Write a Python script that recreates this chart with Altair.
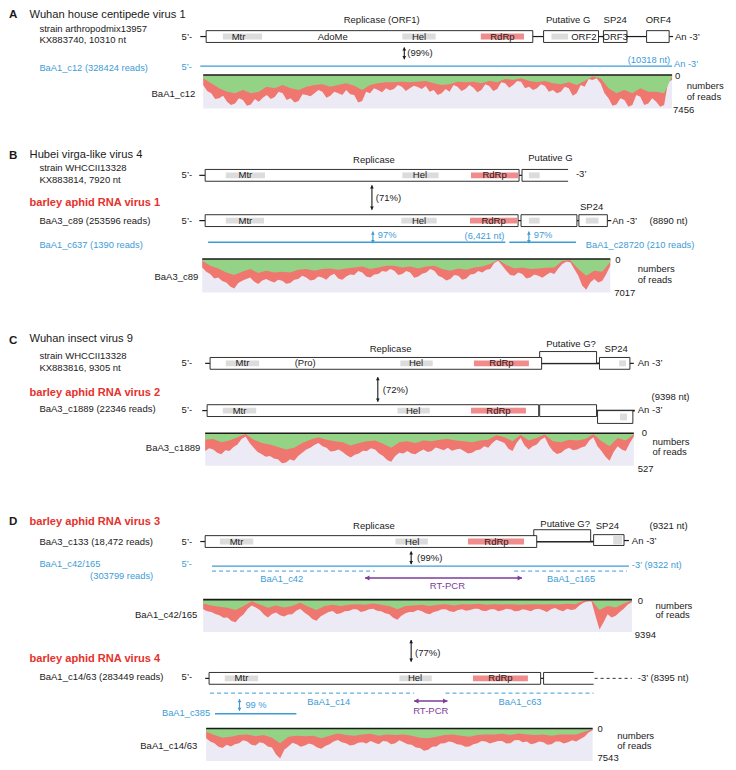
import altair as alt
import pandas as pd
import numpy as np

# ---------------- colours ----------------
BLACK = "#1a1a1a"
BLUE = "#3d9bd6"
RED = "#e5322d"
PURPLE = "#7d3c98"
GREY = "#dcdcdc"
PINK = "#f08c8c"
COV_RED = "#f07670"
COV_GREEN = "#94d286"
COV_BG = "#eceaf4"

# reference frame (figure units) -> chart pixels
CH_W, CH_H = 720, 756
K = 0.98  # font scale

XS = alt.Scale(domain=[1, 735], nice=False, zero=False)
YS = alt.Scale(domain=[2, 770], nice=False, zero=False, reverse=True)

# ---------------- coverage tracks (depth, % of axis maximum) ----------------
strip_names = ["BaA1_c12", "BaA3_c89", "BaA3_c1889", "BaA1_c42/165", "BaA1_c14/63"]
strip_max_reads = [7456, 7017, 527, 9394, 7543]
strip_x = [(200, 678), (199, 615), (202, 639), (200, 637), (203, 597)]
strip_y = [(70, 104), (257, 291), (434, 467), (603, 636), (734, 767)]

# all reads (red)
depth_total_A = [30,48,55,72,70,62,80,90,85,70, 75,92,88,72,80,68,60,72,66,50, 55,75,70,82,78,58,60,64,55,45,
                 50,68,62,50,55,60,45,58,60,82, 78,50,55,40,45,52,40,46,42,30, 35,48,40,32,36,42,33,50,45,60,
                 55,42,50,30,35,48,42,30,38,52, 45,28,33,48,42,22,25,38,30,18, 20,40,35,45,40,28,33,50,45,55,
                 50,35,40,62,55,30,35,12,15,10, 25,55,70,92,88,70,75,95,90,60, 65,90,85,70,80,95,90,20,15]
depth_total_B = [25,38,45,58,55,66,70,82,88,72, 65,60,55,68,75,64,60,66,70,62, 65,74,72,62,60,50,55,64,62,52,
                 55,62,50,44,58,62,52,46,48,36, 40,52,55,46,45,36,38,30,35,48, 45,36,40,56,52,44,40,30,35,50,
                 55,64,60,48,50,62,58,46,45,36, 40,32,30,12,5,20,35,48,50,40, 45,58,55,46,50,56,48,40,45,28,
                 15,8,10,30,50,80,92,70,60,70, 65,45,20]
depth_total_C = [55,46,50,60,65,52,55,42,35,18, 10,30,45,58,65,72,70,78,80,92, 90,80,85,70,60,50,45,36,30,40,
                 45,56,55,50,58,68,75,66,62,54, 55,46,50,62,70,82,88,70,60,62, 55,62,65,56,50,58,55,44,48,52,
                 45,54,50,48,55,62,60,52,50,40, 45,30,20,25,30,48,55,30,15,38, 50,40,35,20,12,38,55,64,60,50,
                 45,52,50,44,40,22,12,40,55,72, 85,58,40,50,55,30,10]
depth_total_D1 = [30,36,38,44,48,56,55,66,70,55, 45,28,18,24,32,46,55,44,40,48, 52,46,45,34,28,40,48,60,65,52,
                  45,38,35,44,42,36,35,30,30,38, 35,30,28,34,36,42,45,56,62,50, 42,38,38,32,35,42,45,38,35,30,
                  30,36,38,32,30,34,32,28,28,34, 35,30,30,36,33,28,30,36,35,30, 32,36,30,28,33,38,30,26,32,36,
                  28,32,30,18,10,6,5,50,92,70, 45,55,50,38,28,15,8]
depth_total_D2 = [30,40,45,56,60,50,55,48,45,36, 40,50,52,42,45,55,58,80,92,65, 55,44,48,56,52,46,50,58,62,54,
                  48,40,35,42,45,52,50,44,42,46, 38,44,48,38,40,48,45,36,42,48, 50,58,60,68,65,56,55,46,45,40,
                  42,48,50,56,55,48,45,38,40,46, 42,38,38,46,45,36,35,42,40,48, 45,40,42,50,48,40,40,46,42,36,
                  40,32,25,12,5]

# second (green) track
depth_green_A = [10,25,40,50,55,45,55,50,35,40,30,40,45,35,30,28,35,30,25,32,45,30,25,22,22,20,22,20,18,25,
                 30,28,20,22,20,25,18,22,12,15,10,18,22,18,25,28,22,30,18,5,10,40,55,45,55,40,50,50,55,5]
depth_green_B = [5,20,28,40,48,38,30,42,35,40,38,40,32,30,35,30,28,32,28,25,22,30,25,20,20,25,22,28,22,20,
                 30,35,28,32,25,22,15,2,18,28,25,30,28,26,25,6,4,30,50,35,38,8]
depth_green_C = [20,18,28,22,12,2,20,30,35,42,50,45,30,20,12,20,25,28,38,30,25,22,32,45,28,25,30,22,25,20,
                 18,22,25,28,22,20,6,12,25,5,22,15,4,25,28,20,22,18,3,25,40,15,22,3]
depth_green_D1 = [12,18,22,25,32,20,5,15,25,18,24,20,10,22,32,20,16,20,16,14,16,12,16,20,30,20,18,16,20,16,
                  14,18,14,15,13,16,14,15,14,16,15,14,15,14,15,13,14,4,2,32,20,24,12,3]
depth_green_D2 = [10,20,28,25,20,18,24,20,28,45,25,22,24,22,30,22,15,20,22,18,16,22,18,20,18,22,28,30,25,20,
                  18,22,25,20,18,18,16,20,15,18,20,18,22,18,18,18,10,2]

depth_total = [depth_total_A, depth_total_B, depth_total_C, depth_total_D1, depth_total_D2]
depth_green = [depth_green_A, depth_green_B, depth_green_C, depth_green_D1, depth_green_D2]

# ---------------- genome maps ----------------
orf_boxes = [
    (203, 536, 25, 37), (547, 603, 25, 37), (608, 632, 25, 37), (652, 675, 25, 37),
    (202, 522, 166, 178),
    (202, 521, 212, 224), (524, 581, 212, 224), (583, 612, 212, 224),
    (543, 601, 351, 363), (207, 545, 357, 369), (604, 635, 357, 369),
    (204, 542, 405, 417), (543, 601, 405, 417), (602, 638, 411, 424),
    (537, 595, 532, 544), (202, 540, 538, 550), (598, 629, 537, 548),
    (206, 544, 677, 689),
]
domains = [
    (220, 260, 28, 34, "g"), (403, 437, 28, 34, "g"), (483, 527, 28, 34, "p"), (555, 572, 28, 34, "g"),
    (223, 263, 169, 175, "g"), (403, 440, 169, 175, "g"), (473, 521, 169, 175, "p"), (532, 543, 169, 175, "g"),
    (223, 262, 215, 221, "g"), (402, 438, 215, 221, "g"), (472, 520, 215, 221, "p"), (532, 543, 215, 221, "g"),
    (590, 603, 215, 221, "g"),
    (223, 257, 360, 366, "g"), (401, 434, 360, 366, "g"), (476, 532, 360, 366, "p"), (624, 631, 360, 366, "g"),
    (220, 254, 408, 414, "g"), (398, 431, 408, 414, "g"), (473, 529, 408, 414, "p"), (625, 632, 414, 421, "g"),
    (217, 251, 541, 547, "g"), (396, 429, 541, 547, "g"), (470, 527, 541, 547, "p"), (618, 627, 538, 547, "g"),
    (222, 256, 680, 686, "g"), (400, 433, 680, 686, "g"), (475, 531, 680, 686, "p"),
]
open_h = [(525, 572, 166), (525, 572, 178), (547, 598, 677), (547, 598, 689)]
open_v = [(525, 166, 178), (547, 677, 689)]
thin_links = [
    (197, 203, 31), (536, 547, 31), (603, 608, 31), (632, 652, 31), (675, 679, 31),
    (196, 202, 172), (522, 525, 172), (196, 202, 218), (521, 524, 218), (581, 583, 218), (612, 616, 218),
    (202, 207, 363), (635, 639, 363), (199, 204, 411),
    (197, 202, 544), (629, 634, 543), (202, 206, 683), (544, 547, 683),
]
thick_links = [(545, 604, 363), (601, 640, 411), (540, 598, 544)]
dashed_black = [(599, 637, 683)]
blue_solid = [(197, 678, 61), (205, 508, 240), (512, 580, 240), (209, 634, 569), (212, 295, 719)]
blue_dashed = [(209, 375, 574), (517, 632, 574), (207, 415, 698), (447, 598, 698)]
v_arrows = [(405, 42, 54, BLACK), (372, 182, 207, BLACK), (378, 377, 402, BLACK), (412, 554, 567, BLACK),
            (412, 644, 666, BLACK), (373, 229, 241, BLUE), (532, 229, 241, BLUE), (237, 704, 716, BLUE)]
h_arrows = [(365, 525, 581, PURPLE), (415, 449, 706, PURPLE)]

# ---------------- text ----------------
styles = {  # colour, size, weight
    "P": (BLACK, 11.8, "bold"),
    "T": (BLACK, 11.4, "normal"),
    "L": (BLACK, 9.7, "normal"),
    "R": (RED, 11.3, "bold"),
    "B": (BLUE, 9.5, "normal"),
    "U": (PURPLE, 9.7, "normal"),
}
texts = [
    ("A", 2, 9, "P", "left"),
    ("Wuhan house centipede virus 1", 23, 9, "T", "left"),
    ("strain arthropodmix13957", 33, 23, "L", "left"),
    ("KX883740, 10310 nt", 33, 35, "L", "left"),
    ("5’-", 178, 31, "L", "left"),
    ("Replicase (ORF1)", 382, 14, "L", "center"),
    ("Putative G", 572, 14, "L", "center"),
    ("SP24", 620, 14, "L", "center"),
    ("ORF4", 664, 14, "L", "center"),
    ("Mtr", 236, 31, "L", "center"),
    ("AdoMe", 332, 31, "L", "center"),
    ("Hel", 420, 31, "L", "center"),
    ("RdRp", 505, 31, "L", "center"),
    ("ORF2", 588, 31, "L", "center"),
    ("ORF3", 620, 31, "L", "center"),
    ("An -3’", 681, 31, "L", "left"),
    ("(99%)", 408, 48, "L", "left"),
    ("BaA1_c12 (328424 reads)", 33, 63, "B", "left"),
    ("5’-", 178, 62, "B", "left"),
    ("(10318 nt)", 676, 55, "B", "right"),
    ("An -3’", 680, 59, "B", "left"),
    ("BaA1_c12", 192, 89, "L", "right"),
    ("0", 681, 71.5, "L", "left"),
    ("numbers", 693, 81, "L", "left"),
    ("of reads", 693, 92, "L", "left"),
    ("7456", 679, 106, "L", "left"),
    # B
    ("B", 2, 152, "P", "left"),
    ("Hubei virga-like virus 4", 23, 151, "T", "left"),
    ("strain WHCCII13328", 33, 165, "L", "left"),
    ("KX883814,  7920 nt", 33, 177, "L", "left"),
    ("Replicase", 374, 156, "L", "center"),
    ("Putative G", 554, 154, "L", "center"),
    ("5’-", 178, 172, "L", "left"),
    ("Mtr", 243, 172, "L", "center"),
    ("Hel", 421, 172, "L", "center"),
    ("RdRp", 497, 172, "L", "center"),
    ("-3’", 580, 171, "L", "left"),
    ("(71%)", 376, 195, "L", "left"),
    ("barley aphid RNA virus 1", 23, 200, "R", "left"),
    ("BaA3_c89 (253596 reads)", 33, 218, "L", "left"),
    ("5’-", 178, 218, "L", "left"),
    ("Mtr", 243, 218, "L", "center"),
    ("Hel", 420, 218, "L", "center"),
    ("RdRp", 496, 218, "L", "center"),
    ("SP24", 596, 204, "L", "center"),
    ("An -3’", 617, 218, "L", "left"),
    ("(8890 nt)", 655, 218, "L", "left"),
    ("BaA1_c637 (1390 reads)", 33, 243, "B", "left"),
    ("97%", 378, 233, "B", "left"),
    ("(6,421 nt)", 507, 234, "B", "right"),
    ("97%", 537, 233, "B", "left"),
    ("BaA1_c28720 (210 reads)", 590, 243, "B", "left"),
    ("BaA3_c89", 195, 275, "L", "right"),
    ("0", 620, 258, "L", "left"),
    ("numbers", 643, 267, "L", "left"),
    ("of reads", 643, 278, "L", "left"),
    ("7017", 619, 292, "L", "left"),
    # C
    ("C", 2, 340, "P", "left"),
    ("Wuhan insect virus 9", 23, 338, "T", "left"),
    ("strain WHCCII13328", 33, 356, "L", "left"),
    ("KX883816, 9305 nt", 33, 368, "L", "left"),
    ("Replicase", 391, 348, "L", "center"),
    ("Putative G?", 575, 343, "L", "center"),
    ("SP24", 621, 348, "L", "center"),
    ("5’-", 178, 363, "L", "left"),
    ("Mtr", 240, 363, "L", "center"),
    ("(Pro)", 304, 363, "L", "center"),
    ("Hel", 417, 363, "L", "center"),
    ("RdRp", 504, 363, "L", "center"),
    ("An  -3’", 643, 363, "L", "left"),
    ("(72%)", 383, 390, "L", "left"),
    ("barley aphid RNA virus 2", 23, 393, "R", "left"),
    ("BaA3_c1889 (22346 reads)", 33, 409, "L", "left"),
    ("5’-", 178, 410, "L", "left"),
    ("Mtr", 237, 411, "L", "center"),
    ("Hel", 414, 411, "L", "center"),
    ("RdRp", 501, 411, "L", "center"),
    ("(9398 nt)", 657, 397, "L", "left"),
    ("An  -3’", 643, 410, "L", "left"),
    ("BaA3_c1889", 197, 449, "L", "right"),
    ("0", 647, 434, "L", "left"),
    ("numbers", 658, 443, "L", "left"),
    ("of reads", 658, 453, "L", "left"),
    ("527", 643, 470, "L", "left"),
    # D
    ("D", 2, 524, "P", "left"),
    ("barley aphid RNA virus 3", 23, 524, "R", "left"),
    ("Replicase", 374, 528, "L", "center"),
    ("Putative G?", 569, 526, "L", "center"),
    ("SP24", 612, 528, "L", "center"),
    ("(9321 nt)", 655, 528, "L", "left"),
    ("BaA3_c133 (18,472 reads)", 33, 544, "L", "left"),
    ("5’-", 178, 544, "L", "left"),
    ("Mtr", 234, 544, "L", "center"),
    ("Hel", 413, 544, "L", "center"),
    ("RdRp", 499, 544, "L", "center"),
    ("An  -3’", 637, 543, "L", "left"),
    ("(99%)", 418, 561, "L", "left"),
    ("BaA1_c42/165", 33, 567, "B", "left"),
    ("(303799 reads)", 149, 579, "B", "right"),
    ("5’-", 178, 567, "B", "left"),
    ("-3’  (9322  nt)", 637, 568, "B", "left"),
    ("BaA1_c42", 280, 582, "B", "center"),
    ("BaA1_c165", 575, 582, "B", "center"),
    ("RT-PCR", 449, 589, "U", "center"),
    ("BaA1_c42/165", 194, 619, "L", "right"),
    ("0", 643, 604, "L", "left"),
    ("numbers", 661, 609, "L", "left"),
    ("of reads", 661, 619, "L", "left"),
    ("9394", 640, 639, "L", "left"),
    ("(77%)", 416, 657, "L", "left"),
    ("barley aphid RNA virus 4", 23, 663, "R", "left"),
    ("BaA1_c14/63 (283449 reads)", 33, 682, "L", "left"),
    ("5’-", 178, 682, "L", "left"),
    ("Mtr", 239, 683, "L", "center"),
    ("Hel", 416, 683, "L", "center"),
    ("RdRp", 503, 683, "L", "center"),
    ("-3’ (8395 nt)", 643, 683, "L", "left"),
    ("BaA1_c14", 328, 707, "B", "center"),
    ("BaA1_c63", 523, 707, "B", "center"),
    ("BaA1_c385", 207, 718, "B", "right"),
    ("99 %", 243, 710, "B", "left"),
    ("RT-PCR", 432, 716, "U", "center"),
    ("BaA1_c14/63", 194, 752, "L", "right"),
    ("0", 602, 734, "L", "left"),
    ("numbers", 622, 742, "L", "left"),
    ("of reads", 622, 752, "L", "left"),
    ("7543", 602, 764, "L", "left"),
]

# ---------------- build tables ----------------
red_rows, green_rows, bg_rows, top_rows = [], [], [], []
for name, (x0, x1), (t, b), tot, grn in zip(strip_names, strip_x, strip_y, depth_total, depth_green):
    for xi, a in zip(np.linspace(x0, x1, len(tot)), tot):
        red_rows.append(dict(strip=name, x=float(xi), ytop=t, yb=t + a / 100 * (b - t)))
    for xi, g in zip(np.linspace(x0, x1, len(grn)), grn):
        green_rows.append(dict(strip=name, x=float(xi), ytop=t, yb=t + g / 100 * (b - t)))
    bg_rows.append(dict(x=x0, x2=x1, y=t, y2=b))
    top_rows.append(dict(x=x0, x2=x1, y=t))
red_df = pd.DataFrame(red_rows)
green_df = pd.DataFrame(green_rows)
bg_df = pd.DataFrame(bg_rows)
top_df = pd.DataFrame(top_rows)

box_df = pd.DataFrame(orf_boxes, columns=["x", "x2", "y", "y2"])
dom_df = pd.DataFrame(domains, columns=["x", "x2", "y", "y2", "kind"])
dom_df["fill"] = dom_df["kind"].map({"g": GREY, "p": PINK})


def hdf(rows):
    return pd.DataFrame(rows, columns=["x", "x2", "y"])


vdf = pd.DataFrame(open_v, columns=["x", "y", "y2"])
arrow_lines_v = pd.DataFrame(v_arrows, columns=["x", "y", "y2", "c"])
arrow_lines_h = pd.DataFrame(h_arrows, columns=["x", "x2", "y", "c"])
heads = []
for x, y1, y2, c in v_arrows:
    heads.append(dict(x=x, y=y1 + 1.6, shape="triangle-up", c=c, s=14))
    heads.append(dict(x=x, y=y2 - 1.6, shape="triangle-down", c=c, s=14))
for x1, x2, y, c in h_arrows:
    heads.append(dict(x=x1 + 2.2, y=y, shape="triangle-left", c=c, s=26))
    heads.append(dict(x=x2 - 2.2, y=y, shape="triangle-right", c=c, s=26))
head_df = pd.DataFrame(heads)

txt_df = pd.DataFrame(texts, columns=["text", "x", "y", "style", "align"])
txt_df["color"] = txt_df["style"].map(lambda s: styles[s][0])
txt_df["size"] = txt_df["style"].map(lambda s: styles[s][1] * K)
txt_df["weight"] = txt_df["style"].map(lambda s: styles[s][2])


def X(f="x"):
    return alt.X(f"{f}:Q", scale=XS, axis=None)


def Y(f="y"):
    return alt.Y(f"{f}:Q", scale=YS, axis=None)


layers = []
layers.append(alt.Chart(bg_df).mark_rect(color=COV_BG).encode(x=X(), x2="x2:Q", y=Y(), y2="y2:Q"))
layers.append(alt.Chart(red_df).mark_area(color=COV_RED, interpolate="linear").encode(
    x=X(), y=Y("ytop"), y2="yb:Q", detail="strip:N"))
layers.append(alt.Chart(green_df).mark_area(color=COV_GREEN, interpolate="linear").encode(
    x=X(), y=Y("ytop"), y2="yb:Q", detail="strip:N"))
layers.append(alt.Chart(top_df).mark_rule(color=BLACK, strokeWidth=1.6).encode(x=X(), x2="x2:Q", y=Y()))

layers.append(alt.Chart(hdf(thin_links)).mark_rule(color=BLACK, strokeWidth=1.2).encode(x=X(), x2="x2:Q", y=Y()))
layers.append(alt.Chart(hdf(thick_links)).mark_rule(color=BLACK, strokeWidth=1.8).encode(x=X(), x2="x2:Q", y=Y()))
layers.append(alt.Chart(hdf(dashed_black)).mark_rule(color=BLACK, strokeWidth=0.9, strokeDash=[3, 3]).encode(
    x=X(), x2="x2:Q", y=Y()))
layers.append(alt.Chart(box_df).mark_rect(fill="white", stroke=BLACK, strokeWidth=0.9).encode(
    x=X(), x2="x2:Q", y=Y(), y2="y2:Q"))
layers.append(alt.Chart(hdf(open_h)).mark_rule(color=BLACK, strokeWidth=0.9).encode(x=X(), x2="x2:Q", y=Y()))
layers.append(alt.Chart(vdf).mark_rule(color=BLACK, strokeWidth=0.9).encode(x=X(), y=Y(), y2="y2:Q"))
layers.append(alt.Chart(dom_df).mark_rect().encode(
    x=X(), x2="x2:Q", y=Y(), y2="y2:Q", fill=alt.Fill("fill:N", scale=None)))

layers.append(alt.Chart(hdf(blue_solid)).mark_rule(color=BLUE, strokeWidth=1.4).encode(x=X(), x2="x2:Q", y=Y()))
layers.append(alt.Chart(hdf(blue_dashed)).mark_rule(color=BLUE, strokeWidth=1.0, strokeDash=[4, 3]).encode(
    x=X(), x2="x2:Q", y=Y()))

layers.append(alt.Chart(arrow_lines_v).mark_rule(strokeWidth=1.1).encode(
    x=X(), y=Y(), y2="y2:Q", color=alt.Color("c:N", scale=None)))
layers.append(alt.Chart(arrow_lines_h).mark_rule(strokeWidth=1.6).encode(
    x=X(), x2="x2:Q", y=Y(), color=alt.Color("c:N", scale=None)))
layers.append(alt.Chart(head_df).mark_point(filled=True, opacity=1, strokeWidth=0).encode(
    x=X(), y=Y(), shape=alt.Shape("shape:N", scale=None), color=alt.Color("c:N", scale=None),
    size=alt.Size("s:Q", scale=None)))

for (al, wt), sub in txt_df.groupby(["align", "weight"]):
    layers.append(alt.Chart(sub).mark_text(align=al, baseline="middle", font="Liberation Sans",
                                           fontWeight=wt).encode(
        x=X(), y=Y(), text="text:N", color=alt.Color("color:N", scale=None),
        size=alt.Size("size:Q", scale=None)))

chart = alt.layer(*layers).properties(
    width=CH_W, height=CH_H, padding=0, autosize=alt.AutoSizeParams(type="none"),
    background="white",
).configure_view(stroke=None)

chart.save("out.html", embed_options={"renderer": "svg", "actions": False})
